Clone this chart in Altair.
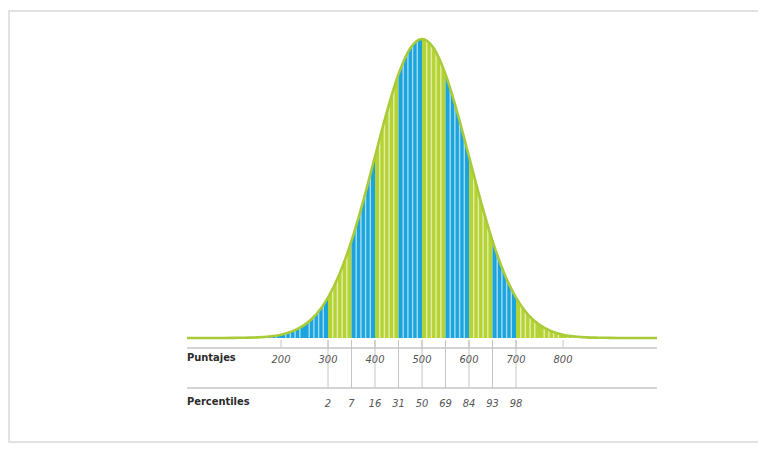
import altair as alt
import pandas as pd

# curve: score -> relative height (peak = 100)
curve_score = [0, 50, 100, 125, 150, 175, 200, 225, 250, 275, 300, 325, 350, 375, 400, 425, 450, 475,
               500, 525, 550, 575, 600, 625, 650, 675, 700, 725, 750, 775, 800, 825, 850, 875, 900, 950, 1000]
curve_height = [0, 0, 0.05, 0.1, 0.2, 0.5, 1.1, 2.3, 4.4, 7.9, 13.5, 21.6, 32.5, 45.8, 60.7, 75.5, 88.2, 96.9,
                100, 96.9, 88.2, 75.5, 60.7, 45.8, 32.5, 21.6, 13.5, 7.9, 4.4, 2.3, 1.1, 0.5, 0.2, 0.1, 0.05, 0, 0]

band_start = [0, 300, 350, 400, 450, 500, 550, 600, 650, 700]
band_end = [300, 350, 400, 450, 500, 550, 600, 650, 700, 1000]
band_kind = ["azul", "verde", "azul", "verde", "azul", "verde", "azul", "verde", "azul", "verde"]

stripe_x = [s for s in range(150, 860, 10) if s % 50]

score_ticks = [200, 300, 400, 500, 600, 700, 800]
score_labels = ["200", "300", "400", "500", "600", "700", "800"]
pct_pos = [300, 350, 400, 450, 500, 550, 600, 650, 700]
pct_labels = ["2", "7", "16", "31", "50", "69", "84", "93", "98"]

BLUE = "#1ba4de"
GREEN = "#b6d334"
LINE = "#a9cb38"
GRAY = "#c4c4c4"
FONT = "Liberation Sans Narrow, DejaVu Sans Condensed, sans-serif"

xs = alt.Scale(domain=[0, 1000], nice=False)
ys = alt.Scale(domain=[0, 100], nice=False, zero=True)

curve_df = pd.DataFrame({"s": curve_score, "h": curve_height})
band_df = pd.DataFrame({"s": band_start, "s2": band_end, "k": band_kind})
stripe_df = pd.DataFrame({"s": stripe_x})
tick_df = pd.DataFrame({"s": score_ticks, "lab": score_labels})
pct_df = pd.DataFrame({"s": pct_pos, "lab": pct_labels})

frame = alt.Chart(pd.DataFrame({"a": [0]})).mark_rect(
    fill="white", stroke="#d9d9d9", strokeWidth=1.5
).encode(x=alt.value(-178), x2=alt.value(800), y=alt.value(-28), y2=alt.value(403))

bands = alt.Chart(band_df).mark_rect().encode(
    x=alt.X("s:Q", scale=xs, axis=None),
    x2="s2:Q",
    y=alt.Y("h0:Q", scale=ys, axis=None),
    y2="h1:Q",
    color=alt.Color("k:N", scale=alt.Scale(domain=["azul", "verde"], range=[BLUE, GREEN]), legend=None),
).transform_calculate(h0="0", h1="100")

stripes = alt.Chart(stripe_df).mark_rule(color="white", opacity=0.6, strokeWidth=1.4).encode(
    x=alt.X("s:Q", scale=xs, axis=None),
    y=alt.Y("h0:Q", scale=ys, axis=None),
    y2="h1:Q",
).transform_calculate(h0="0", h1="100")

# white mask above the curve
mask = alt.Chart(curve_df).mark_area(color="white", interpolate="monotone").encode(
    x=alt.X("s:Q", scale=xs, axis=None),
    y=alt.Y("h:Q", scale=ys, axis=None),
    y2="top:Q",
).transform_calculate(top="100")

line = alt.Chart(curve_df).mark_line(color=LINE, strokeWidth=2.6, interpolate="monotone").encode(
    x=alt.X("s:Q", scale=xs, axis=None),
    y=alt.Y("h:Q", scale=ys, axis=None),
)

hline_df = pd.DataFrame({"s": [0], "s2": [1000]})
hline1 = alt.Chart(hline_df).mark_rule(color=GRAY, strokeWidth=1.6).encode(
    x=alt.X("s:Q", scale=xs, axis=None), x2="s2:Q", y=alt.value(309)
)
hline2 = alt.Chart(hline_df).mark_rule(color=GRAY, strokeWidth=1.6).encode(
    x=alt.X("s:Q", scale=xs, axis=None), x2="s2:Q", y=alt.value(349)
)

score_tick_marks = alt.Chart(tick_df).mark_rule(color=GRAY, strokeWidth=1).encode(
    x=alt.X("s:Q", scale=xs, axis=None), y=alt.value(301), y2=alt.value(309)
)
pct_tick_marks = alt.Chart(pct_df).mark_rule(color=GRAY, strokeWidth=1).encode(
    x=alt.X("s:Q", scale=xs, axis=None), y=alt.value(301), y2=alt.value(349)
)

score_text = alt.Chart(tick_df).mark_text(
    font=FONT, fontSize=11, fontStyle="italic", color="#555555", baseline="middle", align="center"
).encode(x=alt.X("s:Q", scale=xs, axis=None), y=alt.value(321), text="lab:N")

pct_text = alt.Chart(pct_df).mark_text(
    font=FONT, fontSize=11, fontStyle="italic", color="#555555", baseline="middle", align="center"
).encode(x=alt.X("s:Q", scale=xs, axis=None), y=alt.value(365), text="lab:N")

title1 = alt.Chart(pd.DataFrame({"t": ["Puntajes"]})).mark_text(
    font=FONT, fontSize=11, fontWeight="bold", color="#2b2b2b", baseline="middle", align="left"
).encode(x=alt.value(0), y=alt.value(319), text="t:N")
title2 = alt.Chart(pd.DataFrame({"t": ["Percentiles"]})).mark_text(
    font=FONT, fontSize=11, fontWeight="bold", color="#2b2b2b", baseline="middle", align="left"
).encode(x=alt.value(0), y=alt.value(363), text="t:N")

chart = alt.layer(
    frame, bands, stripes, mask, line, hline1, hline2, score_tick_marks, pct_tick_marks,
    score_text, pct_text, title1, title2
).properties(
    width=470, height=299,
    padding={"left": 179, "top": 31, "right": 101, "bottom": 106},
    autosize="none",
).configure_view(stroke=None).configure(background="white")

chart.save("out.html", embed_options={"renderer": "svg", "actions": False})
